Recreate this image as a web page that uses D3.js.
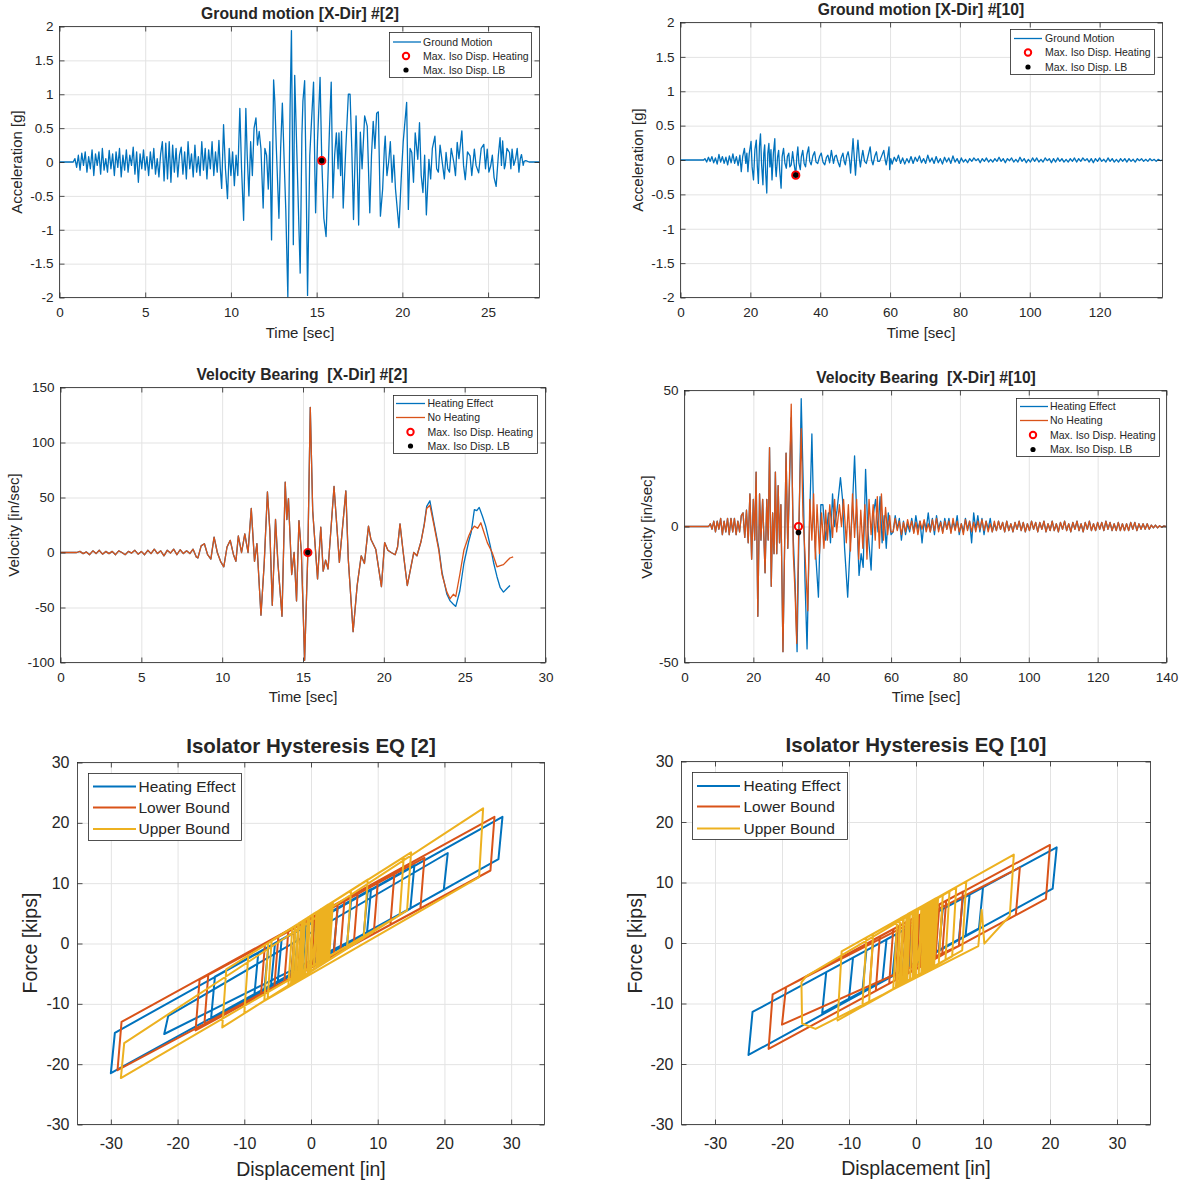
<!DOCTYPE html>
<html>
<head>
<meta charset="utf-8">
<script src="https://cdn.jsdelivr.net/npm/d3@7"></script>
<style>
  body { margin: 0; background: #fff; }
  svg text { font-family: "Liberation Sans", Arial, Helvetica, sans-serif; fill: #262626; }
</style>
</head>
<body>
<svg id="chart" width="1180" height="1183"></svg>
<script>
// ---------- datos ----------
// Ground motion #2 : [t (s), a (g)]
const gm2Quiet = [[0, 0], [0.8, 0]];
const gm2NoiseStart = 0.9, gm2NoiseStep = 0.1;
const gm2Noise = [0.05,-0.08,0.1,-0.12,0.13,-0.05,0.15,-0.15,0.08,-0.1, 0.18,-0.2,0.12,-0.05,0.15,-0.18,0.2,-0.12,0.05,-0.15,
  0.17,-0.1,0.12,-0.2,0.15,-0.08,0.2,-0.22,0.1,-0.12, 0.18,-0.15,0.1,-0.05,0.22,-0.18,0.15,-0.3,0.12,-0.1,
  0.18,-0.12,0.08,-0.2,0.15,-0.1,0.2,-0.18,0.05,-0.22, 0.12,0.3,-0.28,0.28,-0.25,0.3,-0.3,0.25,-0.15,0.2,
  -0.22,0.1,0.22,-0.18,0.15,-0.25,0.3,-0.1,0.12,-0.22, 0.25,-0.15,0.08,-0.2,0.3,-0.12,0.2,-0.25,0.18,-0.1,
  0.3,-0.2,0.15,-0.15,0.32];
const gm2Strong = [[9.38,-0.1],[9.46,-0.39],[9.57,0.55],[9.68,-0.1],[9.8,-0.54],[9.9,0.2],[10.0,-0.2],[10.1,0.15],[10.2,-0.35],[10.3,0.1],
  [10.4,-0.2],[10.52,0.79],[10.62,-0.1],[10.74,-0.86],[10.87,0.79],[10.95,0.1],[11.05,-0.5],[11.15,0.3],[11.25,-0.2],[11.35,0.5],
  [11.46,0.65],[11.55,0.25],[11.65,0.45],[11.75,0.2],[11.88,-0.68],[11.98,0.2],[12.08,0.1],[12.18,-0.4],[12.27,0.3],[12.37,-1.15],
  [12.49,1.21],[12.56,0.9],[12.65,0.2],[12.8,-0.83],[12.9,0.2],[13.0,0.87],[13.12,-0.1],[13.2,-0.7],[13.32,-1.99],[13.45,0.8],
  [13.53,1.94],[13.64,-1.22],[13.72,1.28],[13.85,0.1],[14.04,-1.64],[14.14,0.4],[14.2,0.9],[14.3,1.2],[14.4,-0.5],[14.47,-1.97],
  [14.6,0.1],[14.7,0.6],[14.82,1.18],[14.9,-0.2],[14.94,-0.75],[15.05,0.3],[15.2,1.25],[15.3,0.02],[15.42,-0.83],[15.55,-1.1],
  [15.65,-0.3],[15.75,0.5],[15.85,1.18],[15.95,-0.53],[16.05,0.1],[16.15,0.43],[16.25,-0.1],[16.3,0.43],[16.4,-0.2],[16.45,0.45],
  [16.55,-0.68],[16.7,0.2],[16.85,1.0],[16.95,1.0],[17.05,0.2],[17.15,-0.85],[17.3,0.68],[17.45,-0.93],[17.55,0.44],[17.65,-0.1],
  [17.8,0.68],[17.95,0.53],[18.1,-0.75],[18.2,0.1],[18.3,0.6],[18.4,0.2],[18.5,0.72],[18.6,0.74],[18.72,-0.8],[18.85,-0.4],
  [18.95,0.2],[19.0,0.38],[19.1,-0.2],[19.2,0.0],[19.3,0.3],[19.4,-0.3],[19.5,0.1],[19.6,-0.4],[19.8,-0.97],[19.95,-0.16],
  [20.05,0.3],[20.25,0.88],[20.35,-0.7],[20.45,0.2],[20.55,0.14],[20.65,-0.3],[20.75,0.43],[20.9,0.04],[21.0,0.58],[21.1,-0.2],
  [21.2,-0.45],[21.3,0.1],[21.4,-0.78],[21.55,0.04],[21.65,-0.25],[21.75,0.2],[21.9,0.38],[22.0,-0.1],[22.1,-0.15],[22.2,0.25],
  [22.35,-0.05],[22.45,-0.25],[22.55,0.14],[22.65,-0.1],[22.75,-0.15],[22.85,0.2],[23.0,0.0],[23.1,-0.2],[23.2,0.29],[23.3,0.05],
  [23.47,0.46],[23.57,-0.05],[23.67,-0.26],[23.8,0.15],[23.95,0.09],[24.05,-0.2],[24.2,0.19],[24.3,-0.05],[24.45,-0.16],[24.6,0.2],
  [24.75,0.26],[24.85,-0.1],[24.95,0.19],[25.05,-0.15],[25.15,-0.06],[25.25,0.1],[25.35,-0.23],[25.47,-0.36],[25.6,0.1],[25.7,0.36],
  [25.78,-0.05],[25.85,0.31],[25.95,-0.1],[26.0,-0.05],[26.1,0.2],[26.25,0.14],[26.33,-0.1],[26.4,0.19],[26.5,-0.05],[26.6,0.04],
  [26.7,0.2],[26.8,-0.15],[26.88,0.05],[26.95,0.11],[27.05,-0.05],[27.1,0.01],[27.2,0.02],[27.4,0.0],[28.0,0.0]];

// Ground motion #10
const gm10Quiet = [[0, 0], [6.6, 0]];
const gm10LowStart = 7, gm10LowStep = 0.5;
const gm10Low = [0.02,-0.03,0.04,-0.02,0.05,-0.04,0.03,-0.06,0.08,-0.03,0.05,-0.05,0.04,-0.07,0.06,-0.04,0.09,-0.05,0.05,-0.08,0.07];
const gm10Burst = [[17.4,-0.17],[17.8,0.05],[18.3,0.17],[18.7,-0.05],[19.0,0.1],[19.3,-0.17],[19.7,0.1],[20.2,0.27],[20.5,-0.1],[20.9,-0.29],
  [21.3,0.15],[21.7,0.29],[22.0,-0.1],[22.3,-0.34],[22.6,0.2],[22.9,0.38],[23.2,-0.05],[23.6,-0.36],[23.85,0.1],[24.1,0.22],
  [24.4,-0.2],[24.7,-0.48],[25.0,0.1],[25.3,0.24],[25.6,-0.1],[25.9,0.15],[26.2,-0.29],[26.6,0.1],[27.0,0.31],[27.2,-0.1],
  [27.4,-0.24],[27.8,0.05],[28.1,0.14],[28.4,-0.15],[28.8,-0.41],[29.1,0.05],[29.5,0.17],[29.9,-0.05],[30.3,-0.12],[30.6,0.05],
  [31.0,0.1],[31.3,-0.1],[31.7,-0.07],[32.1,0.12],[32.5,-0.05],[33.0,-0.22],[33.3,0.05],[33.6,0.19],[33.9,-0.05],[34.3,-0.14],
  [34.6,0.05],[35.0,0.14],[35.4,-0.05],[35.8,-0.1],[36.2,0.08],[36.7,0.19],[37.0,-0.02],[37.4,-0.07],[37.9,0.06],[38.4,0.12],
  [38.8,-0.03],[39.3,-0.05],[39.8,0.05],[40.3,0.1],[40.8,-0.03],[41.3,-0.07],[41.8,0.04],[42.2,0.07],[42.7,-0.04],[43.2,0.14],
  [43.8,-0.05],[44.2,0.05],[44.6,0.07],[45.1,-0.03],[45.6,-0.1],[46.0,0.03],[46.5,0.1],[46.9,-0.03],[47.2,-0.07],[47.6,0.06],
  [48.0,0.12],[48.4,0.0],[48.7,-0.19],[49.1,0.1],[49.4,0.31],[49.8,0.0],[50.1,-0.22],[50.5,0.1],[50.8,0.29],[51.2,0.02],
  [51.5,-0.1],[51.9,0.05],[52.2,0.14],[52.7,-0.02],[53.2,-0.05],[53.8,0.08],[54.3,0.19],[54.7,0.0],[55.1,-0.07],[55.6,0.05],
  [56.1,0.12],[56.5,-0.02],[57.0,-0.02],[57.6,0.06],[58.2,0.14],[58.6,0.0],[58.9,-0.07],[59.3,0.05],[59.7,0.19],[59.9,-0.14],[60.2,0.02]];
const gm10TailStart = 60.6, gm10TailStep = 0.6;
const gm10Tail = [-0.06,0.04,-0.02,0.07,-0.05,0.03,-0.06,0.02,-0.04,0.05,-0.05,0.04,-0.02,0.06,-0.04,0.02,-0.05,0.07,-0.03,0.03,
  -0.05,0.05,-0.04,0.02,-0.06,0.04,-0.03,0.03,-0.05,0.06,-0.03,0.02,-0.05,
  0.03,-0.03,0.01,-0.04,0.02,-0.02,0.03,-0.01,0.02,-0.04, 0.02,-0.02,0.03,-0.03,0.01,-0.03,0.02,-0.02,0.04,-0.02,
  0.02,-0.04,0.02,-0.01,0.03,-0.03,0.01,-0.03,0.04,-0.02, 0.02,-0.04,0.01,-0.03,0.03,-0.02,0.03,-0.03,0.01,-0.03,
  0.03,-0.01,0.02,-0.04,0.02,-0.03,0.03,-0.02,0.02,-0.03, 0.01,-0.03,0.02,-0.02,0.03,-0.03,0.02,-0.02,0.03,-0.01,
  0.02,-0.03,0.02,-0.04,0.02,-0.02,0.03,-0.02,0.01,-0.03, 0.03,-0.02,0.02,-0.03,0.01,-0.03,0.02,-0.02,0.02,-0.03,
  0.02,-0.02,0.01,-0.03,0.02,-0.01,0.02,-0.02,0.01,-0.02, 0.02,-0.01,0.01,-0.02,0.01,-0.01,0];

// Velocity bearing #2 : [t (s), v (in/sec)]
const vel2Quiet = [[0, 0], [0.8, 0]];
const vel2NoiseStart = 1.0, vel2NoiseStep = 0.2;
const vel2Noise = [0,1,-1,0.5,-2,1.5,-1,2,-1.5,1, -1,1,-2,1.5,0,-2,1,-0.5,2,-1.5, 1,-2,2,-1,3,-1,1.5,-3,2,-0.5, 3,-2,2.5,-1,1.5,-1,3,-4];
const vel2Common = [[8.5,-5],[8.7,6],[8.9,8],[9.1,-2],[9.3,-6],[9.5,14],[9.7,0],[9.9,-8],[10.1,-13],[10.3,5],
  [10.5,11],[10.7,-2],[10.85,-8],[11.0,15],[11.2,0],[11.4,17],[11.6,0],[11.8,40],[12.0,-8],[12.15,8],
  [12.4,-57],[12.6,-10],[12.8,55],[12.95,20],[13.1,-48],[13.3,30],[13.45,-10],[13.55,-29],[13.7,-58],[13.9,64],
  [14.0,30],[14.1,49],[14.3,-20],[14.45,0],[14.6,-44],[14.75,29],[14.9,0],[15.1,-98],[15.3,0],[15.45,132],
  [15.6,38],[15.7,17],[15.9,-24],[16.1,23],[16.25,-17],[16.4,-7],[16.55,-15],[16.92,60],[17.25,-9],[17.65,56],
  [17.8,-6],[18.1,-72],[18.35,-30],[18.6,-3],[18.8,-10],[19.05,24],[19.2,12],[19.5,3],[19.85,-31],[20.05,9],
  [20.25,2],[20.45,0],[20.7,-2],[20.85,5],[21.0,26],[21.2,0],[21.45,-30],[21.65,-15],[21.85,0],[22.05,-3],[22.3,10]];
const vel2HeatTail = [[22.5,26],[22.65,42],[22.85,47],[23.1,27],[23.4,4],[23.6,-18],[23.9,-38],[24.1,-44],[24.3,-47],[24.45,-49],
  [24.7,-35],[24.95,-10],[25.25,10],[25.4,18],[25.6,39],[25.75,38],[25.9,41],[26.1,33],[26.3,24],[26.6,5],
  [26.8,-10],[27.0,-22],[27.2,-32],[27.4,-36],[27.6,-33],[27.8,-30]];
const vel2NoHeatTail = [[22.5,25],[22.65,40],[22.85,43],[23.1,25],[23.4,2],[23.6,-20],[23.9,-36],[24.1,-42],[24.3,-38],[24.45,-40],
  [24.7,-20],[24.95,2],[25.25,15],[25.4,20],[25.6,24],[25.8,22],[26.0,27],[26.2,18],[26.4,9],[26.7,0],
  [27.0,-13],[27.2,-12],[27.4,-11],[27.6,-8],[27.8,-5],[28.0,-4]];

// Velocity bearing #10
const vel10Quiet = [[0, 0], [7, 0]];
const vel10LowStart = 7.5, vel10LowStep = 0.5;
const vel10Low = [1,-1,2,-2,2,-1,3,-3,2,-2,3,-3,3,-2,3,-3,2,-2,4];
const vel10Common = [[17,5],[17.5,-4],[18,6],[18.5,-6],[19,12],[19.5,-12],[20,10],[20.4,-5],[20.8,20],[21.3,-33],
  [21.8,12],[22.2,-5],[22.7,10],[23.4,-17],[23.9,10],[24.3,-5],[24.7,29],[25.2,-22],[25.6,5],[26.0,-10],
  [26.4,20],[26.8,-10],[27.2,15],[27.6,-6],[28.0,8],[28.6,-46],[29.5,27],[30.0,-8]];
const vel10NoHeatMid = [[31.0,45],[31.6,-10],[32.1,-24],[32.6,-43],[33.2,0],[33.9,36],[34.4,4],[35.0,-10],[35.8,-31],[36.4,10],
  [37.0,-5],[37.5,12],[38.0,-12],[38.5,8],[39.2,-10],[39.8,5],[40.5,-8],[41.0,6],[41.5,-5],[42.2,8],
  [43.0,-4],[43.6,10],[44.2,-2],[45.0,8],[45.6,0],[46.2,10],[47.0,-6],[47.6,8],[48.2,-9],[48.8,12],
  [49.4,-4],[50.0,10],[50.6,-12],[51.2,6],[51.8,-8],[52.4,8],[53.0,-12],[53.6,10],[54.2,-3],[54.8,8],
  [55.4,-5],[56.0,11],[56.6,-8],[57.2,12],[57.8,-5],[58.4,7],[59.0,-3],[59.6,4],[60.0,-2]];
const vel10HeatMid = [[31.0,40],[31.6,-5],[32.1,-20],[32.7,-46],[33.4,10],[33.9,47],[34.5,15],[35.0,-20],[35.6,-45],[36.3,0],
  [37.0,34],[37.5,5],[38.0,-8],[38.9,-26],[39.6,8],[40.2,8],[41.0,-5],[41.8,5],[42.4,-6],[43.0,12],
  [43.6,0],[44.3,6],[45.3,18],[45.9,10],[46.5,-8],[47.4,-26],[48.0,-10],[48.7,5],[49.4,26],[50.0,5],
  [50.7,-18],[51.3,-10],[51.9,-15],[52.6,21],[53.2,0],[53.7,-8],[54.2,-16],[54.8,4],[55.5,10],[56.2,-2],
  [56.8,11],[57.4,-6],[58.0,4],[58.6,-8],[59.2,5],[60.0,-3]];
const vel10TailStart = 60.6, vel10TailStep = 0.6;
const vel10NoHeatTail = [-2,3,-1.5,2,-3,1.5,-2,2.5,-1,2, -2.5,1.5,-3,2,-1,2.5,-2,1,-2,2.5, -1.5,3,-2,1.5,-2.5,2,-1,2,-2.5,3,
  -1.5,2,-2,1,-3,2.5,-1.5,2,-2,1.5, -2,2,-1,2.5,-1.5,2,-2,1,-2,2, -1.5,2,-1,1.5,-2,2,-1.5,1,-2,1.5,
  -1,2,-1.5,1.5,-2,1,-1.5,2,-1,1.5, -2,1.5,-1,2,-2,1,-1.5,2,-1.5,1, -2,1.5,-1,2,-1.5,1,-2,1.5,-1,2,
  -1.5,1,-2,1.5,-1,2,-1.5,1,-1.5,1.5, -1,1.5,-1.5,2,-1,1.5,-1.5,1,-1.5,1.5, -1.5,1,-1.5,1,-1.5,1.5,-1,1.5,-1.5,1,
  -1,1,-1,1,-1,0.5,-0.5,0.5,-0.5,0.3,-0.3,0.2,0];
const vel10HeatTail = [-2,4,-1,3,-5,2,-3,1,-2,3, -2,4,-1,2,-6,2,-1,5,-2,3, -3,4,-1,2,-2,3,-1,3,-2,2,
  -1,4,-3,1,-2,3,-1,2,-6,5, -1,4,-2,3,-3,2,-1,3,-2,1];

// Max. Iso Disp. markers [t, valor]
const gm2Heating = [15.3, 0.02], gm2LB = [15.3, 0.02];
const gm10Heating = [33.0, -0.22], gm10LB = [33.0, -0.22];
const vel2Heating = [15.3, 0], vel2LB = [15.3, 0];
const vel10Heating = [33.1, 0], vel10LB = [33.1, -2.2];

// Hysteresis: [desplazamiento (in), fuerza (kips)]
const hyst2Heat = [[0,0],[0.5,3.7],[0.1,-3.3],[-0.8,-3.9],[-0.4,3.2],[1.5,4.3],[0.9,-2.8],[-1.5,-4.3],[-0.9,2.8],[2,4.6],
  [1.4,-2.5],[-2.5,-5],[-1.9,2.2],[3,5.3],[2.4,-1.9],[-3,-5.3],[-2.4,1.9],[4,5.9],[3.4,-1.3],[-5,-6.5],
  [-4.4,0.7],[6,7.1],[5.4,-0.1],[-7,-7.7],[-6.4,-0.6],[8.5,8.7],[7.9,1.5],[-8.5,-8.7],[-7.9,-1.5],[2.5,5],
  [1.9,-2.2],[-6,-7.1],[-5.4,0],[15.5,13],[14.9,5.8],[-15,-12.7],[-14.4,-5.5],[9,9],[8.4,1.8],[-22,-15],
  [-21.4,-12],[20.5,15],[19.9,8.9],[-30,-21.5],[-29.4,-14.8],[28.7,21],[28.1,14],[-5,-6.5],[-4.4,0.7],[3,5.3],
  [2.4,-1.9],[-3,-5.3],[-2.4,1.9],[1.2,4.1],[0.8,-2.9],[-1.2,-4.1],[-0.8,2.9],[0,3.4]];
const hyst2LB = [[0,0],[0.5,4.3],[0.1,-3.9],[-0.8,-4.5],[-0.4,3.8],[1.5,4.9],[0.9,-3.5],[-2,-5.2],[-1.4,3.2],[2.5,5.5],
  [1.9,-2.9],[-3,-5.8],[-2.4,2.6],[4,6.4],[3.4,-2],[-4,-6.4],[-3.4,2],[5,7],[4.4,-1.4],[-5.5,-7.3],
  [-4.9,1.1],[7,8.2],[6.4,-0.2],[-7.5,-8.5],[-6.9,-0.1],[10,10],[9.4,1.6],[-16,-13.6],[-15.4,-5.2],[17,14.2],
  [16.4,5.8],[-17.3,-14.4],[-16.7,-6],[12.5,11.5],[11.9,3.1],[-29,-21],[-28.4,-13],[27.5,21],[26.9,12.1],[-4,-6.4],
  [-3.4,2],[3,5.8],[2.4,-2.6],[-2,-5.2],[-1.4,3.2],[1.2,4.7],[0.8,-3.5],[-1.5,-4.9],[-1.1,3.3],[1,4.6],[0.4,-3.8]];
const hyst2UB = [[0,0],[0.3,4.8],[0,-4.6],[-0.5,-5],[-0.2,4.5],[0.8,5.2],[0.4,-4.3],[-0.9,-5.2],[-0.5,4.3],[1.2,5.4],
  [0.8,-4],[-1.3,-5.5],[-0.9,4],[1.7,5.8],[1.2,-3.8],[-1.7,-5.8],[-1.2,3.8],[2.2,6.1],[1.7,-3.4],[-2.3,-6.2],
  [-1.8,3.3],[2.7,6.5],[2.2,-3.1],[-2.8,-6.6],[-2.3,3],[3.3,6.9],[2.7,-2.7],[-3.4,-7],[-2.8,2.6],[0.2,4.7],
  [-0.2,-4.7],[1.5,5.7],[0.9,-4],[-1.5,-5.7],[-0.9,4],[2,6],[1.4,-3.6],[-2,-6],[-1.4,3.6],[2.5,6.4],
  [1.9,-3.3],[-2.5,-6.4],[-1.9,3.3],[3,6.7],[2.4,-2.9],[-3,-6.7],[-2.4,2.9],[6,8.8],[5.4,-0.8],[-6.5,-9.2],
  [-5.9,0.5],[8.5,10.6],[7.9,0.9],[-10,-11.6],[-9.4,-2],[15,15.1],[14.4,5.5],[-13.3,-13.9],[-12.7,-4.3],[13.9,14.3],
  [13.3,4.7],[-28.5,-22.3],[-28,-16.5],[25.8,22.4],[25.2,11],[-7,-9.5],[-6.4,0.1],[6,8.8],[5.4,-0.8],[-3,-6.7],
  [-2.4,2.9],[2,6],[1.4,-3.6],[-1.5,-5.7],[-0.9,4],[1,5.3],[0.4,-4.3],[-1,-5.3],[-0.4,4.3],[0.5,5]];
const hyst10Heat = [[0,0],[0.5,3.5],[0.1,-3.1],[-0.8,-3.7],[-0.4,3],[1.5,4.1],[0.9,-2.7],[-1.5,-4.1],[-0.9,2.7],[2,4.4],
  [1.4,-2.4],[-2,-4.4],[-1.4,2.4],[3,5],[2.4,-1.8],[-3.5,-5.3],[-2.9,1.5],[4,5.6],[3.4,-1.2],[-8,-8],
  [-7.4,-1.2],[7,7.4],[6.4,0.6],[-10,-9.2],[-9.4,-2.4],[10,9.2],[9.4,2.4],[-14,-11.6],[-13.4,-4.8],[21,15.8],
  [20.4,9],[-25,-18.5],[-24.4,-11.4],[8,8],[7.4,1.2],[-5,-6.2],[-4.4,0.6],[3,5],[2.4,-1.8],[-2,-4.4],
  [-1.4,2.4],[1,3.8],[0.6,-2.8],[-1,-3.8],[-0.6,2.8],[0.5,3.5]];
const hyst10LB = [[0,0],[0.5,4.6],[0.1,-4.2],[-0.8,-4.8],[-0.4,4.1],[1.5,5.2],[0.9,-3.8],[-1.5,-5.2],[-0.9,3.8],[2,5.5],
  [1.4,-3.5],[-2.5,-5.8],[-1.9,3.2],[3.5,6.4],[2.9,-2.6],[-4,-6.7],[-3.4,2.3],[4.5,7],[3.9,-2],[-7,-8.5],
  [-6.4,0.5],[7,8.5],[6.4,-0.5],[-20,-13.5],[-19.4,-7.3],[15.5,12.5],[14.9,4.6],[-22,-17.5],[-21.4,-8.5],[20,16.2],
  [19.4,7.3],[-6,-7.9],[-5.4,1.1],[4,6.7],[3.4,-2.3],[-2,-5.5],[-1.4,3.5],[-3,-6.1],[-2.6,2.7],[1,4.9],
  [0.6,-4],[-1.2,-5],[-0.8,3.8],[0.5,4.6]];
const hyst10UB = [[0,0],[0.3,5.7],[0,-5.5],[-0.5,-5.8],[-0.2,5.4],[0.8,6],[0.4,-5.3],[-0.9,-6.1],[-0.5,5.2],[1.2,6.2],
  [0.8,-5],[-1.3,-6.3],[-0.9,4.9],[1.7,6.6],[1.2,-4.8],[-1.7,-6.6],[-1.2,4.8],[2.2,6.9],[1.7,-4.4],[-2.3,-6.9],
  [-1.8,4.4],[2.7,7.2],[2.2,-4.1],[-2.8,-7.2],[-2.3,4.1],[3.3,7.5],[2.7,-3.8],[-3.4,-7.6],[-2.8,3.8],[0.2,5.6],
  [-0.2,-5.6],[1.5,6.4],[0.9,-4.9],[-1.5,-6.4],[-0.9,4.9],[2,6.7],[1.4,-4.6],[-2,-6.7],[-1.4,4.6],[2.5,7.1],
  [1.9,-4.3],[-2.5,-7.1],[-1.9,4.3],[3,7.4],[2.4,-4],[-3,-7.4],[-2.4,4],[5,8.6],[4.4,-2.8],[-7,-9.8],
  [-6.4,1.5],[7.5,10.2],[6.9,-1.2],[-11.7,-12.8],[-11.1,-1.4],[14.6,14.6],[14,4.5],[10.2,-0.1],[9.8,5.5],[9.3,-0.5],
  [-15,-14.2],[-17,-13.3],[-17.1,-6.5],[-16.4,-5.5],[6,9.2],[5.4,-2.2],[-8,-10.5],[-7.4,0.9],[4,8],[3.4,-3.4],
  [-3,-7.4],[-2.4,4],[2,6.7],[1.4,-4.6],[-1.5,-6.4],[-0.9,4.9],[1,6.1],[0.4,-5.2],[-0.5,-5.8],[0,5.5]];

// ticks
const accTicks = [-2, -1.5, -1, -0.5, 0, 0.5, 1, 1.5, 2];
const gm2TimeTicks = [0, 5, 10, 15, 20, 25];
const gm10TimeTicks = [0, 20, 40, 60, 80, 100, 120];
const vel2TimeTicks = [0, 5, 10, 15, 20, 25, 30];
const vel2Ticks = [-100, -50, 0, 50, 100, 150];
const vel10TimeTicks = [0, 20, 40, 60, 80, 100, 120, 140];
const vel10Ticks = [-50, 0, 50];
const dispTicks = [-30, -20, -10, 0, 10, 20, 30];
const forceTicks = [-30, -20, -10, 0, 10, 20, 30];

// ---------- dibujo ----------
const BLUE = "#0072BD", ORANGE = "#D95319", YELLOW = "#EDB120", AX = "#262626";
const svg = d3.select("#chart");
svg.append("rect").attr("width", 1180).attr("height", 1183).attr("fill", "#fff");

const seg = (t0, dt, vals) => vals.map((v, i) => [t0 + i * dt, v]);

function panel(p) {
  const x = d3.scaleLinear().domain(p.xDomain).range([p.left, p.right]);
  const y = d3.scaleLinear().domain(p.yDomain).range([p.bottom, p.top]);
  const w = p.right - p.left, h = p.bottom - p.top;
  const g = svg.append("g");

  // Rejilla
  g.append("g").attr("class", "grid").attr("transform", `translate(0,${p.bottom})`)
    .call(d3.axisBottom(x).tickValues(p.xTicks).tickSize(-h).tickFormat(""));
  g.append("g").attr("class", "grid").attr("transform", `translate(${p.left},0)`)
    .call(d3.axisLeft(y).tickValues(p.yTicks).tickSize(-w).tickFormat(""));
  g.selectAll(".grid .domain").remove();
  g.selectAll(".grid line").attr("stroke", "#e3e3e3").attr("stroke-width", 1);

  svg.append("clipPath").attr("id", "clip" + p.id).append("rect")
    .attr("x", p.left).attr("y", p.top).attr("width", w).attr("height", h);
  const plot = g.append("g").attr("clip-path", `url(#clip${p.id})`);

  // Ejes (marcas hacia dentro en los cuatro lados)
  const tk = 5;
  const fmt = d => String(d);
  const axB = g.append("g").attr("transform", `translate(0,${p.bottom})`)
    .call(d3.axisBottom(x).tickValues(p.xTicks).tickSizeInner(-tk).tickSizeOuter(0).tickPadding(p.xPad).tickFormat(fmt));
  const axL = g.append("g").attr("transform", `translate(${p.left},0)`)
    .call(d3.axisLeft(y).tickValues(p.yTicks).tickSizeInner(-tk).tickSizeOuter(0).tickPadding(p.yPad).tickFormat(fmt));
  g.append("g").attr("transform", `translate(0,${p.top})`)
    .call(d3.axisTop(x).tickValues(p.xTicks).tickSizeInner(-tk).tickSizeOuter(0).tickFormat(""));
  g.append("g").attr("transform", `translate(${p.right},0)`)
    .call(d3.axisRight(y).tickValues(p.yTicks).tickSizeInner(-tk).tickSizeOuter(0).tickFormat(""));
  g.selectAll(".domain").remove();
  g.selectAll(".tick line").filter(function() { return !this.closest(".grid"); })
    .attr("stroke", AX).attr("stroke-width", 0.8);
  [axB, axL].forEach(a => a.selectAll("text")
    .attr("font-size", p.tickFont).attr("font-family", null).attr("fill", AX));

  g.append("rect").attr("x", p.left).attr("y", p.top).attr("width", w).attr("height", h)
    .attr("fill", "none").attr("stroke", AX).attr("stroke-width", 0.8);

  // Titulo y etiquetas
  svg.append("text").attr("x", p.titleX).attr("y", p.titleY).attr("dy", "0.35em")
    .attr("text-anchor", "middle").attr("font-weight", "bold").attr("font-size", p.titleFont)
    .style("white-space", "pre").text(p.title);
  svg.append("text").attr("x", p.xLabelX).attr("y", p.xLabelY).attr("dy", "0.35em")
    .attr("text-anchor", "middle").attr("font-size", p.labelFont).text(p.xLabel);
  svg.append("text").attr("transform", `translate(${p.yLabelX},${p.yLabelY}) rotate(-90)`)
    .attr("dy", "0.35em").attr("text-anchor", "middle").attr("font-size", p.labelFont).text(p.yLabel);

  return { x, y, plot, g };
}

function drawLine(P, data, color, width) {
  P.plot.append("path").datum(data)
    .attr("fill", "none").attr("stroke", color).attr("stroke-width", width)
    .attr("stroke-linejoin", "round")
    .attr("d", d3.line().x(d => P.x(d[0])).y(d => P.y(d[1])));
}

function drawMarkers(P, heat, lb) {
  P.g.append("circle").attr("cx", P.x(heat[0])).attr("cy", P.y(heat[1])).attr("r", 3.6)
    .attr("fill", "none").attr("stroke", "#FF0000").attr("stroke-width", 2);
  P.g.append("circle").attr("cx", P.x(lb[0])).attr("cy", P.y(lb[1])).attr("r", 2.8).attr("fill", "#000");
}

function legend(L) {
  const lg = svg.append("g");
  lg.append("rect").attr("x", L.x0).attr("y", L.y0).attr("width", L.x1 - L.x0).attr("height", L.y1 - L.y0)
    .attr("fill", "#fff").attr("stroke", AX).attr("stroke-width", 0.8);
  L.items.forEach((it, i) => {
    const yy = L.rows[i];
    if (it.type === "line") {
      lg.append("line").attr("x1", L.lineX0).attr("x2", L.lineX1).attr("y1", yy).attr("y2", yy)
        .attr("stroke", it.color).attr("stroke-width", L.lineW);
    } else if (it.type === "ring") {
      lg.append("circle").attr("cx", L.markX).attr("cy", yy).attr("r", 3.2)
        .attr("fill", "none").attr("stroke", "#FF0000").attr("stroke-width", 2);
    } else {
      lg.append("circle").attr("cx", L.markX).attr("cy", yy).attr("r", 2.6).attr("fill", "#000");
    }
    lg.append("text").attr("x", L.textX).attr("y", yy).attr("dy", "0.35em")
      .attr("font-size", L.font).attr("fill", "#000").text(it.label);
  });
}

const gmItems = [
  { type: "line", color: BLUE, label: "Ground Motion" },
  { type: "ring", label: "Max. Iso Disp. Heating" },
  { type: "dot", label: "Max. Iso Disp. LB" }];
const velItems = [
  { type: "line", color: BLUE, label: "Heating Effect" },
  { type: "line", color: ORANGE, label: "No Heating" },
  { type: "ring", label: "Max. Iso Disp. Heating" },
  { type: "dot", label: "Max. Iso Disp. LB" }];
const hysItems = [
  { type: "line", color: BLUE, label: "Heating Effect" },
  { type: "line", color: ORANGE, label: "Lower Bound" },
  { type: "line", color: YELLOW, label: "Upper Bound" }];

const topStyle = { tickFont: 13.5, labelFont: 15, titleFont: 15.7, xPad: 10, yPad: 6 };
const botStyle = { tickFont: 16, labelFont: 19.5, titleFont: 20.5, xPad: 13, yPad: 8 };

// 1. Ground motion #2
const P1 = panel(Object.assign({ id: 1, left: 59.5, right: 539.5, top: 26.5, bottom: 297.5,
  xDomain: [0, 28], yDomain: [-2, 2], xTicks: gm2TimeTicks, yTicks: accTicks,
  title: "Ground motion [X-Dir] #[2]", titleX: 300, titleY: 13.5,
  xLabel: "Time [sec]", xLabelX: 300, xLabelY: 333, yLabel: "Acceleration [g]", yLabelX: 17, yLabelY: 162 }, topStyle));
drawLine(P1, [...gm2Quiet, ...seg(gm2NoiseStart, gm2NoiseStep, gm2Noise), ...gm2Strong], BLUE, 1.3);
drawMarkers(P1, gm2Heating, gm2LB);
legend({ x0: 389.5, x1: 531.5, y0: 32.5, y1: 77.5, rows: [42, 56, 70], lineX0: 393, lineX1: 421, markX: 406,
  textX: 423, font: 10.5, lineW: 1.3, items: gmItems });

// 2. Ground motion #10
const P2 = panel(Object.assign({ id: 2, left: 680.5, right: 1162.5, top: 22.5, bottom: 297.5,
  xDomain: [0, 138], yDomain: [-2, 2], xTicks: gm10TimeTicks, yTicks: accTicks,
  title: "Ground motion [X-Dir] #[10]", titleX: 921, titleY: 10,
  xLabel: "Time [sec]", xLabelX: 921, xLabelY: 333, yLabel: "Acceleration [g]", yLabelX: 638, yLabelY: 160 }, topStyle));
drawLine(P2, [...gm10Quiet, ...seg(gm10LowStart, gm10LowStep, gm10Low), ...gm10Burst,
  ...seg(gm10TailStart, gm10TailStep, gm10Tail)], BLUE, 1.3);
drawMarkers(P2, gm10Heating, gm10LB);
legend({ x0: 1010.5, x1: 1154.5, y0: 29.5, y1: 74.5, rows: [38.5, 52.5, 67], lineX0: 1014, lineX1: 1042, markX: 1028,
  textX: 1045, font: 10.5, lineW: 1.3, items: gmItems });

// 3. Velocity #2
const P3 = panel(Object.assign({ id: 3, left: 60.5, right: 545.5, top: 387.5, bottom: 662.5,
  xDomain: [0, 30], yDomain: [-100, 150], xTicks: vel2TimeTicks, yTicks: vel2Ticks,
  title: "Velocity Bearing  [X-Dir] #[2]", titleX: 302, titleY: 375,
  xLabel: "Time [sec]", xLabelX: 303, xLabelY: 697, yLabel: "Velocity [in/sec]", yLabelX: 14, yLabelY: 525 }, topStyle));
const vel2Base = [...vel2Quiet, ...seg(vel2NoiseStart, vel2NoiseStep, vel2Noise), ...vel2Common];
drawLine(P3, [...vel2Base, ...vel2HeatTail], BLUE, 1.3);
drawLine(P3, [...vel2Base, ...vel2NoHeatTail], ORANGE, 1.3);
drawMarkers(P3, vel2Heating, vel2LB);
legend({ x0: 393.5, x1: 537.5, y0: 395.5, y1: 453.5, rows: [403.5, 417.5, 432, 446], lineX0: 396, lineX1: 425, markX: 410.5,
  textX: 427.5, font: 10.5, lineW: 1.3, items: velItems });

// 4. Velocity #10
const P4 = panel(Object.assign({ id: 4, left: 684.5, right: 1166.5, top: 390.5, bottom: 662.5,
  xDomain: [0, 140], yDomain: [-50, 50], xTicks: vel10TimeTicks, yTicks: vel10Ticks,
  title: "Velocity Bearing  [X-Dir] #[10]", titleX: 926, titleY: 378,
  xLabel: "Time [sec]", xLabelX: 926, xLabelY: 697, yLabel: "Velocity [in/sec]", yLabelX: 647, yLabelY: 527 }, topStyle));
const vel10Base = [...vel10Quiet, ...seg(vel10LowStart, vel10LowStep, vel10Low), ...vel10Common];
const vel10NoHeatTailPts = seg(vel10TailStart, vel10TailStep, vel10NoHeatTail);
const vel10HeatTailPts = seg(vel10TailStart, vel10TailStep, vel10HeatTail);
drawLine(P4, [...vel10Base, ...vel10HeatMid, ...vel10HeatTailPts,
  ...vel10NoHeatTailPts.filter(d => d[0] > vel10HeatTailPts[vel10HeatTailPts.length - 1][0])], BLUE, 1.3);
drawLine(P4, [...vel10Base, ...vel10NoHeatMid, ...vel10NoHeatTailPts], ORANGE, 1.3);
drawMarkers(P4, vel10Heating, vel10LB);
legend({ x0: 1016.5, x1: 1159.5, y0: 398.5, y1: 456.5, rows: [406.5, 420.5, 435, 449.5], lineX0: 1020, lineX1: 1048, markX: 1033,
  textX: 1050, font: 10.5, lineW: 1.3, items: velItems });

// 5. Hysteresis EQ 2
const P5 = panel(Object.assign({ id: 5, left: 77.5, right: 544.5, top: 762.5, bottom: 1124.5,
  xDomain: [-35, 35], yDomain: [-30, 30], xTicks: dispTicks, yTicks: forceTicks,
  title: "Isolator Hysteresis EQ [2]", titleX: 311, titleY: 745.5,
  xLabel: "Displacement [in]", xLabelX: 311, xLabelY: 1169, yLabel: "Force [kips]", yLabelX: 30, yLabelY: 943 }, botStyle));
drawLine(P5, hyst2Heat, BLUE, 2);
drawLine(P5, hyst2LB, ORANGE, 2);
drawLine(P5, hyst2UB, YELLOW, 2);
legend({ x0: 88.5, x1: 241.5, y0: 773.5, y1: 840.5, rows: [786.5, 807.5, 829], lineX0: 93, lineX1: 136, markX: 0,
  textX: 138.5, font: 15.5, lineW: 2.2, items: hysItems });

// 6. Hysteresis EQ 10
const P6 = panel(Object.assign({ id: 6, left: 681.5, right: 1150.5, top: 761.5, bottom: 1124.5,
  xDomain: [-35, 35], yDomain: [-30, 30], xTicks: dispTicks, yTicks: forceTicks,
  title: "Isolator Hysteresis EQ [10]", titleX: 916, titleY: 745,
  xLabel: "Displacement [in]", xLabelX: 916, xLabelY: 1168, yLabel: "Force [kips]", yLabelX: 635, yLabelY: 943 }, botStyle));
drawLine(P6, hyst10Heat, BLUE, 2);
drawLine(P6, hyst10LB, ORANGE, 2);
drawLine(P6, hyst10UB, YELLOW, 2);
legend({ x0: 692.5, x1: 847.5, y0: 772.5, y1: 839.5, rows: [786, 806.5, 828.5], lineX0: 697, lineX1: 740, markX: 0,
  textX: 743.5, font: 15.5, lineW: 2.2, items: hysItems });
</script>
</body>
</html>
